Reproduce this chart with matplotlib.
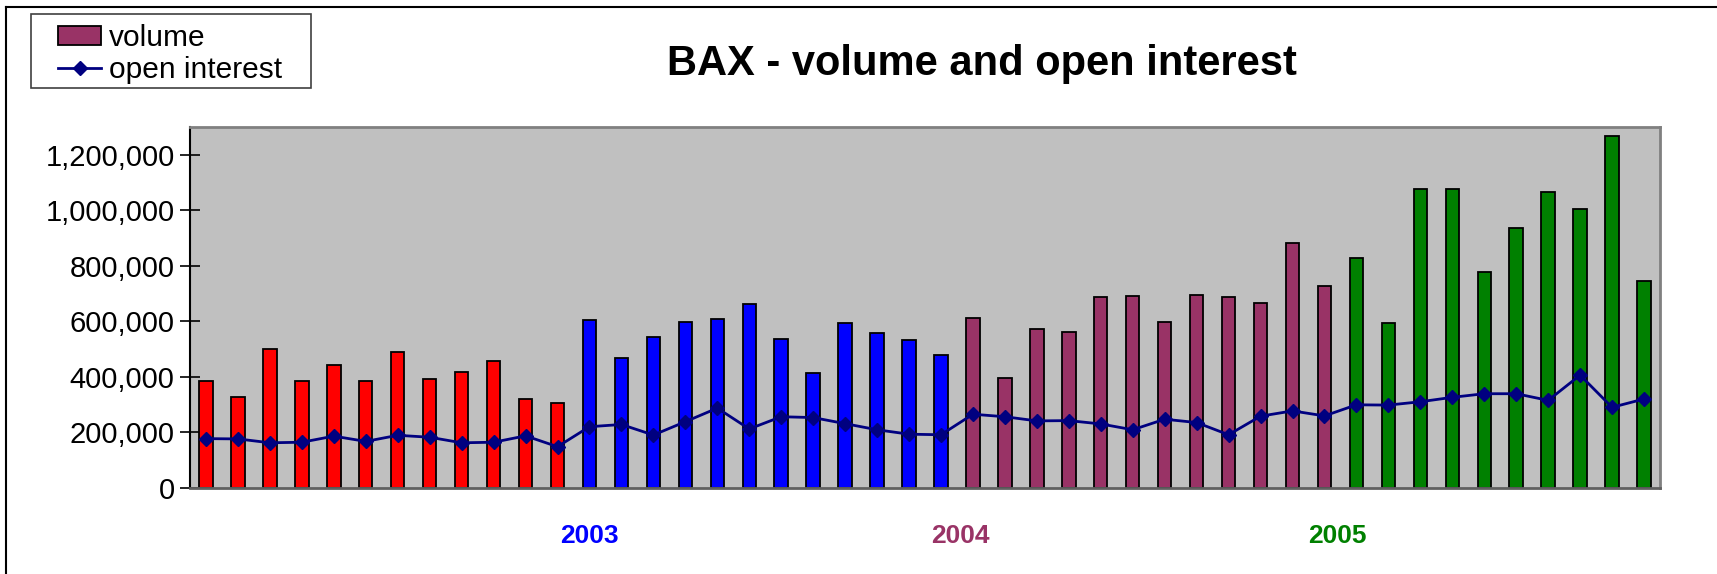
import matplotlib.pyplot as plt
import matplotlib.ticker as mticker
from matplotlib.lines import Line2D
from matplotlib.patches import Patch, Rectangle
import numpy as np

plt.rcParams['font.family'] = ['Liberation Sans', 'DejaVu Sans']

# monthly volume, one list per year
vol_2002 = [385000, 327000, 502000, 384000, 444000, 386000, 489000, 391000, 419000, 458000, 321000, 305000]
vol_2003 = [606000, 469000, 545000, 597000, 610000, 662000, 538000, 412000, 593000, 557000, 531000, 480000]
vol_2004 = [612000, 394000, 574000, 563000, 689000, 690000, 599000, 695000, 688000, 667000, 883000, 728000]
vol_2005 = [830000, 595000, 1077000, 1077000, 779000, 936000, 1065000, 1006000, 1270000, 746000]

# monthly open interest
oi_2002 = [177000, 176000, 162000, 164000, 186000, 167000, 189000, 182000, 162000, 164000, 187000, 148000]
oi_2003 = [220000, 228000, 190000, 238000, 287000, 212000, 256000, 253000, 231000, 209000, 193000, 191000]
oi_2004 = [265000, 256000, 241000, 242000, 230000, 209000, 247000, 235000, 191000, 258000, 277000, 259000]
oi_2005 = [299000, 298000, 310000, 326000, 339000, 339000, 315000, 406000, 290000, 320000]

year_colors = ['#FF0000', '#0000FF', '#993366', '#008000']
year_labels = ['2003', '2004', '2005']

volume = vol_2002 + vol_2003 + vol_2004 + vol_2005
open_interest = oi_2002 + oi_2003 + oi_2004 + oi_2005
bar_colors = []
for yr, col in zip([vol_2002, vol_2003, vol_2004, vol_2005], year_colors):
    bar_colors += [col] * len(yr)
x = np.arange(len(volume))

W, H = 1717, 574
fig = plt.figure(figsize=(W / 100, H / 100), dpi=100)
ax = fig.add_axes([190 / W, 1 - 487.7 / H, 1470 / W, 360.4 / H])
ax.set_facecolor('#C0C0C0')

ax.bar(x, volume, width=0.42, color=bar_colors, edgecolor='black', linewidth=1.3, zorder=2)
ax.plot(x, open_interest, color='#000080', linewidth=2, marker='D', markersize=7,
        markerfacecolor='#000080', markeredgecolor='#000080', zorder=3)

ax.set_xlim(-0.5, len(volume) - 0.5)
ax.set_ylim(0, 1300000)
ax.set_yticks(np.arange(0, 1200001, 200000))
ax.yaxis.set_major_formatter(mticker.FuncFormatter(lambda v, p: f"{int(v):,}"))
ax.tick_params(axis='y', direction='inout', length=14, width=1.2, labelsize=21, pad=4)

# year labels under the first month of each year
ax.set_xticks([12, 23.6, 35.4])
ax.set_xticklabels(year_labels, fontsize=19, fontweight='bold')
for lab, col in zip(ax.get_xticklabels(), year_colors[1:]):
    lab.set_color(col)
ax.tick_params(axis='x', length=0, pad=26)

for side in ['top', 'right']:
    ax.spines[side].set_color('#808080')
    ax.spines[side].set_linewidth(2)
ax.spines['left'].set_color('black')
ax.spines['left'].set_linewidth(1.5)
ax.spines['bottom'].set_color('#606060')
ax.spines['bottom'].set_linewidth(2)

fig.text(982 / W, 1 - 64 / H, 'BAX - volume and open interest', fontsize=30,
         fontweight='bold', ha='center', va='center')

# legend: hand-drawn frame, frameless legend inside
fig.add_artist(Rectangle((31 / W, 1 - 88 / H), 280 / W, 74 / H, transform=fig.transFigure,
                         facecolor='white', edgecolor='#404040', linewidth=1.2))
handles = [Patch(facecolor='#993366', edgecolor='black', linewidth=1.3),
           Line2D([0], [0], color='#000080', linewidth=2, marker='D', markersize=7)]
fig.legend(handles, ['volume', 'open interest'], loc='upper left',
           bbox_to_anchor=(58 / W, 1 - 24 / H), fontsize=21.5, frameon=False,
           borderaxespad=0, borderpad=0, handlelength=1.45, handleheight=0.6,
           handletextpad=0.25, labelspacing=0.12)

# outer chart border
fig.add_artist(Line2D([6 / W, 1], [1 - 7 / H, 1 - 7 / H], color='black', linewidth=1.5))
fig.add_artist(Line2D([6 / W, 6 / W], [0, 1 - 7 / H], color='black', linewidth=1.5))

fig.savefig('out.png', dpi=100)
